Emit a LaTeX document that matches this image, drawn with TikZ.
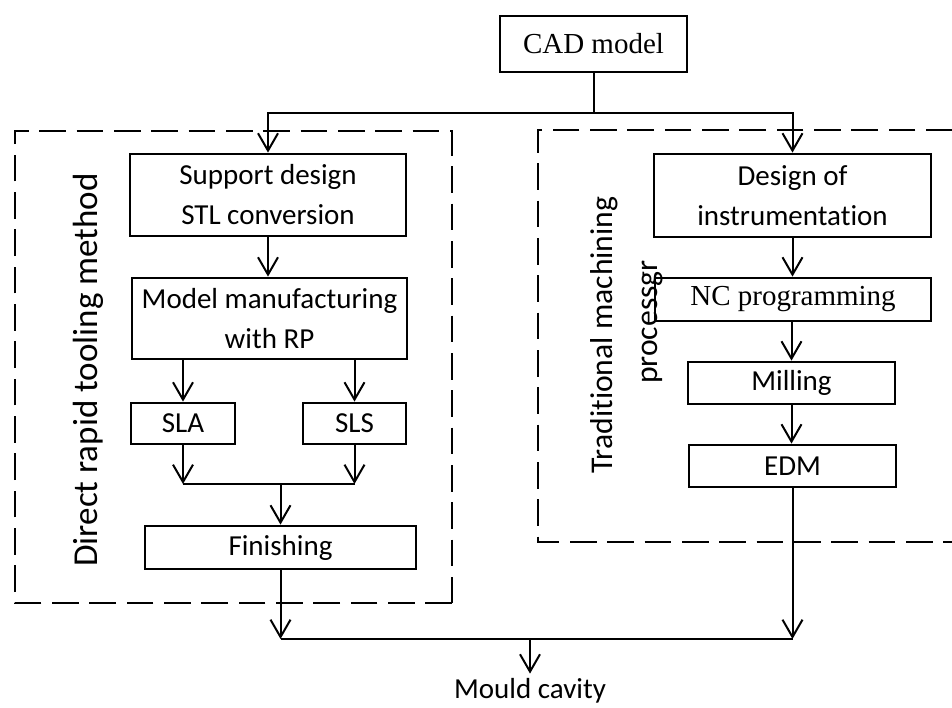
\documentclass[tikz,border=0pt]{standalone}
\usepackage{fontspec}
\setmainfont{Carlito}[Ligatures=NoCommon]
\newfontfamily\timesfont{Liberation Serif}
\usetikzlibrary{arrows.meta}
\begin{document}
\begin{tikzpicture}[x=0.75pt,y=-0.75pt,
  boxnode/.style={draw,line width=2.1pt,inner sep=0pt,align=center,
    font=\fontsize{21.75pt}{30pt}\selectfont},
  conn/.style={line width=1.5pt},
  arr/.style={conn,-{Straight Barb[length=13pt,width=15pt,line width=1.5pt]}},
  dashbox/.style={line width=2pt,dash pattern=on 20pt off 8pt},
  vlabel/.style={rotate=90,inner sep=0pt}]
\useasboundingbox (0,0) rectangle (952,707);
% dashed group boxes
\draw[dashbox] (452,603) -- (15,603) -- (15,131) -- (452,131) -- cycle;
\draw[dashbox] (990,130) -- (538,130) -- (538,542) -- (990,542);
% nodes
\node[boxnode,minimum width=140.25pt,minimum height=42pt,font=\timesfont\fontsize{21.75pt}{30pt}\selectfont] (cad) at (593.5,44) {CAD model};
\node[boxnode,minimum width=207pt,minimum height=61.5pt] (sup) at (268,195) {Support design\\STL conversion};
\node[boxnode,minimum width=206.25pt,minimum height=60.75pt] (mod) at (269.5,318.5) {Model manufacturing\\with RP};
\node[boxnode,minimum width=78pt,minimum height=30.75pt] (sla) at (183,423.5) {SLA};
\node[boxnode,minimum width=77.25pt,minimum height=30.75pt] (sls) at (354.5,423.5) {SLS};
\node[boxnode,minimum width=203.25pt,minimum height=32.25pt] (fin) at (280.5,547.5) {Finishing};
\node[boxnode,minimum width=207.75pt,minimum height=62.25pt] (des) at (792.5,195.5) {Design of\\instrumentation};
\node[boxnode,minimum width=207pt,minimum height=32.25pt,font=\timesfont\fontsize{21.75pt}{30pt}\selectfont] (nc) at (793,299.5) {NC programming};
\node[boxnode,minimum width=155.25pt,minimum height=31.5pt] (mil) at (791.5,383) {Milling};
\node[boxnode,minimum width=155.25pt,minimum height=31.5pt] (edm) at (792.5,466) {EDM};
\node[inner sep=0pt,anchor=base,font=\fontsize{21.75pt}{30pt}\selectfont] (mould) at (530,698) {Mould cavity};
% vertical labels
\node[vlabel,anchor=base,font=\fontsize{26.25pt}{30pt}\selectfont] (lleft) at (97,370) {Direct rapid tooling method};
\node[vlabel,anchor=base,font=\fontsize{23.75pt}{30pt}\selectfont] (lr1) at (612,335) {Traditional machining};
\node[vlabel,anchor=base,font=\fontsize{23.75pt}{30pt}\selectfont] (lr2) at (657,322) {processgr};
% connectors
\coordinate (j1) at (592,113);
\coordinate (j2) at (0,484);
\coordinate (j3) at (0,639);
\draw[conn] (cad.south) -- (cad.south |- j1);
\draw[arr] (cad.south |- j1) -| (sup.north);
\draw[arr] (cad.south |- j1) -| (des.north);
\draw[arr] (sup.south) -- (sup.south |- mod.north);
\draw[arr] (sla.north |- mod.south) -- (sla.north);
\draw[arr] (sls.north |- mod.south) -- (sls.north);
\draw[arr] (sla.south) -- (sla.south |- j2);
\draw[arr] (sls.south) -- (sls.south |- j2);
\draw[conn] (sla.south |- j2) -- (sls.south |- j2);
\draw[arr] (fin.north |- j2) -- (fin.north);
\draw[arr] (des.south) -- (des.south |- nc.north);
\draw[arr] (mil.north |- nc.south) -- (mil.north);
\draw[arr] (mil.south) -- (mil.south |- edm.north);
\draw[arr] (fin.south) -- (fin.south |- j3);
\draw[arr] (edm.south) -- (edm.south |- j3);
\draw[conn] (fin.south |- j3) -- (edm.south |- j3);
\draw[arr,shorten >=3pt] (mould.north |- j3) -- (mould.north);
\end{tikzpicture}
\end{document}
